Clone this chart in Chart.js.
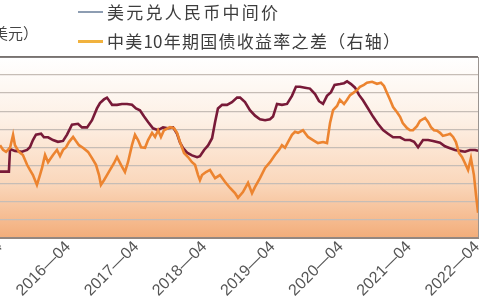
<!DOCTYPE html>
<html><head><meta charset="utf-8">
<script src="https://cdn.jsdelivr.net/npm/chart.js@4"></script>
<style>
html,body{margin:0;padding:0;width:480px;height:300px;overflow:hidden;background:#fff;}
#wrap{position:relative;width:480px;height:300px;overflow:hidden;}
canvas{position:absolute;left:0;top:0;}
.leg{position:absolute;font-family:"Noto Sans CJK SC";font-size:17px;line-height:17px;color:#3d3d3d;white-space:nowrap;text-align:justify;text-align-last:justify;text-justify:inter-character;}
.unit{position:absolute;font-family:"Noto Sans CJK SC";font-size:15px;line-height:15px;color:#444;white-space:nowrap;}
.sw{position:absolute;}
</style></head>
<body><div id="wrap">
<canvas id="c" width="480" height="300"></canvas>
<div class="sw" style="left:78px;top:11px;width:25px;height:2px;background:#8d9db2"></div>
<div class="leg" id="leg1" style="left:107px;top:3px;width:171px"></div>
<div class="sw" style="left:78px;top:40px;width:25px;height:3px;background:#f1b23e"></div>
<div class="leg" id="leg2" style="left:107px;top:32px;width:293px"></div>
<div class="unit" id="unit" style="right:442px;top:25px"></div>
</div>
<script>
const seriesNames = ['美元兑人民币中间价', '中美10年期国债收益率之差（右轴）'];
const leftUnit = '（元/美元）';
const tickDates = ['2015-04','2016-04','2017-04','2018-04','2019-04','2020-04','2021-04','2022-04'];

const fxDates = ['2015-04-01','2015-05-18','2015-05-24','2015-06-20','2015-07-27','2015-08-24','2015-09-09','2015-09-25','2015-10-11','2015-11-08','2015-11-23','2015-12-15','2016-01-11','2016-02-07','2016-03-04','2016-03-25','2016-04-21','2016-05-23','2016-06-14','2016-07-11','2016-08-07','2016-09-03','2016-09-19','2016-10-10','2016-10-26','2016-11-23','2016-12-19','2017-01-15','2017-02-12','2017-03-08','2017-03-29','2017-04-20','2017-05-12','2017-06-03','2017-06-29','2017-07-26','2017-08-22','2017-09-18','2017-10-15','2017-11-06','2017-11-22','2017-12-08','2017-12-29','2018-01-25','2018-02-22','2018-03-07','2018-03-29','2018-04-20','2018-05-11','2018-05-27','2018-06-12','2018-07-04','2018-07-30','2018-08-26','2018-09-23','2018-10-09','2018-11-05','2018-12-01','2018-12-28','2019-01-24','2019-02-21','2019-03-17','2019-04-03','2019-04-24','2019-05-20','2019-06-17','2019-07-13','2019-08-04','2019-08-25','2019-09-22','2019-10-18','2019-11-15','2019-12-06','2019-12-27','2020-01-18','2020-02-09','2020-02-28','2020-03-27','2020-04-18','2020-05-04','2020-05-25','2020-06-16','2020-07-07','2020-07-28','2020-08-25','2020-09-21','2020-10-17','2020-11-14','2020-12-10','2021-01-07','2021-02-14','2021-03-10','2021-04-07','2021-04-28','2021-05-19','2021-06-15','2021-07-12','2021-08-08','2021-09-15','2021-10-11','2021-11-08','2021-12-04','2021-12-30','2022-01-27','2022-02-23','2022-03-20','2022-04-06'];
const fxValues = [6.13,6.13,6.38,6.36,6.35,6.37,6.40,6.48,6.54,6.55,6.51,6.51,6.48,6.46,6.47,6.54,6.65,6.66,6.62,6.62,6.70,6.83,6.89,6.93,6.95,6.87,6.87,6.88,6.88,6.87,6.83,6.81,6.74,6.68,6.61,6.59,6.62,6.61,6.62,6.55,6.45,6.39,6.34,6.31,6.29,6.30,6.37,6.42,6.50,6.68,6.83,6.87,6.87,6.90,6.95,6.95,6.90,6.81,6.75,6.71,6.70,6.71,6.74,6.88,6.87,6.88,6.97,7.07,7.07,7.06,7.05,6.99,6.91,6.88,6.97,7.01,7.09,7.10,7.11,7.13,7.10,7.06,6.98,6.92,6.83,6.74,6.66,6.59,6.55,6.51,6.51,6.48,6.48,6.46,6.40,6.48,6.48,6.47,6.45,6.41,6.39,6.37,6.36,6.35,6.37,6.37,6.36];

const spreadDates = ['2015-04-01','2015-04-17','2015-05-03','2015-05-24','2015-06-10','2015-06-20','2015-07-11','2015-08-02','2015-08-24','2015-09-09','2015-09-25','2015-10-16','2015-11-02','2015-11-13','2015-11-29','2015-12-15','2015-12-30','2016-01-11','2016-02-02','2016-02-18','2016-03-04','2016-03-20','2016-04-05','2016-04-27','2016-05-12','2016-05-28','2016-06-19','2016-07-16','2016-08-07','2016-08-28','2016-09-14','2016-09-24','2016-10-10','2016-10-26','2016-11-12','2016-12-03','2016-12-19','2017-01-10','2017-02-01','2017-02-17','2017-03-08','2017-03-24','2017-04-10','2017-04-26','2017-05-17','2017-06-03','2017-06-24','2017-07-10','2017-07-26','2017-08-11','2017-08-27','2017-09-29','2017-10-20','2017-11-06','2017-11-22','2017-12-13','2018-01-04','2018-01-25','2018-02-11','2018-02-27','2018-03-07','2018-03-18','2018-04-09','2018-04-30','2018-05-27','2018-06-23','2018-07-19','2018-08-16','2018-09-12','2018-09-28','2018-10-24','2018-11-21','2018-12-12','2018-12-28','2019-01-24','2019-02-21','2019-03-17','2019-04-13','2019-05-05','2019-05-20','2019-06-06','2019-06-22','2019-07-13','2019-07-29','2019-08-15','2019-09-11','2019-10-08','2019-11-04','2019-11-30','2019-12-27','2020-01-18','2020-02-04','2020-02-20','2020-03-11','2020-03-26','2020-04-18','2020-05-04','2020-05-20','2020-06-05','2020-06-27','2020-07-12','2020-08-03','2020-08-19','2020-09-16','2020-10-12','2020-11-03','2020-11-19','2020-12-05','2020-12-21','2021-01-07','2021-01-28','2021-02-14','2021-02-28','2021-03-21','2021-04-07','2021-04-22','2021-05-13','2021-05-29','2021-06-26','2021-07-12','2021-07-27','2021-08-13','2021-08-29','2021-09-15','2021-09-30','2021-10-22','2021-11-08','2021-11-24','2021-12-09','2021-12-25','2022-01-11','2022-01-27','2022-02-13','2022-02-28','2022-03-14','2022-03-25','2022-04-06'];
const spreadValues = [1.29,1.20,1.16,1.24,1.49,1.29,1.16,1.10,0.91,0.81,0.71,0.52,0.71,0.85,1.10,0.96,1.04,1.10,1.20,1.08,1.20,1.25,1.35,1.45,1.37,1.29,1.24,1.16,1.04,0.91,0.71,0.52,0.61,0.71,0.81,0.94,1.06,0.91,0.77,0.96,1.29,1.49,1.39,1.25,1.24,1.39,1.53,1.45,1.58,1.45,1.58,1.64,1.62,1.53,1.35,1.14,1.06,0.96,0.91,0.71,0.61,0.71,0.77,0.81,0.65,0.71,0.58,0.46,0.36,0.27,0.38,0.56,0.36,0.48,0.65,0.85,0.96,1.10,1.20,1.29,1.24,1.35,1.49,1.55,1.53,1.58,1.45,1.39,1.33,1.35,1.33,1.72,1.97,2.05,2.17,2.09,2.17,2.26,2.30,2.36,2.42,2.46,2.50,2.52,2.48,2.50,2.44,2.30,2.17,2.03,1.93,1.84,1.72,1.62,1.58,1.58,1.66,1.76,1.82,1.74,1.64,1.58,1.57,1.53,1.47,1.49,1.51,1.45,1.35,1.14,1.06,0.94,0.81,1.04,0.71,0.32,-0.02];

// months since 2015-01
function toMonth(s){ const p = s.split('-').map(Number); return (p[0]-2015)*12 + (p[1]-1) + ((p[2]||1)-1)/30; }
const pts = (d, v) => d.map((s, i) => ({x: toMonth(s), y: v[i]}));

document.getElementById('leg1').textContent = seriesNames[0];
document.getElementById('leg2').textContent = seriesNames[1];
document.getElementById('unit').textContent = leftUnit;

const bgPlugin = {
  id: 'bg',
  beforeDraw(chart){
    const {ctx, chartArea:a} = chart;
    const g = ctx.createLinearGradient(0, a.top, 0, a.bottom);
    g.addColorStop(0, '#ffffff');
    g.addColorStop(0.35, '#fdf0e5');
    g.addColorStop(0.7, '#fad7bb');
    g.addColorStop(1, '#f3ad7a');
    ctx.save(); ctx.fillStyle = g; ctx.fillRect(a.left, a.top, a.right - a.left, a.bottom - a.top); ctx.restore();
  },
  afterDraw(chart){
    const {ctx, chartArea:a} = chart;
    ctx.save();
    ctx.strokeStyle = '#5e5a58'; ctx.lineWidth = 1.5;
    ctx.beginPath(); ctx.moveTo(a.left, a.top); ctx.lineTo(a.right, a.top); ctx.stroke();
    ctx.strokeStyle = '#9a9490'; ctx.lineWidth = 1;
    ctx.beginPath(); ctx.moveTo(a.right + 0.5, a.top); ctx.lineTo(a.right + 0.5, a.bottom); ctx.stroke();
    ctx.restore();
  }
};

new Chart(document.getElementById('c'), {
  type: 'line',
  data: {
    datasets: [
      { label: seriesNames[1], data: pts(spreadDates, spreadValues), yAxisID: 'y2', borderColor: '#ec8430', borderWidth: 2.6, pointRadius: 0, tension: 0, order: 0 },
      { label: seriesNames[0], data: pts(fxDates, fxValues), yAxisID: 'y', borderColor: '#781a38', borderWidth: 2.6, pointRadius: 0, tension: 0, order: 1 }
    ]
  },
  options: {
    responsive: false, animation: false, devicePixelRatio: 1,
    layout: { padding: { left: 0, right: 2, top: 57, bottom: 0 } },
    plugins: { legend: { display: false }, tooltip: { enabled: false } },
    scales: {
      x: {
        type: 'linear', min: toMonth(tickDates[0]), max: 87.15,
        grid: { display: false, drawTicks: false },
        border: { display: true, color: '#948780', width: 2 },
        afterBuildTicks: s => { s.ticks = tickDates.map(t => ({ value: toMonth(t) })); },
        afterFit: s => { s.height = 62.5; s.paddingLeft = 0; s.paddingRight = 0; },
        ticks: {
          autoSkip: false, maxRotation: 45, minRotation: 45, padding: 0,
          color: '#555', font: { family: 'Liberation Sans', size: 16 },
          callback: v => { const t = tickDates.find(d => Math.abs(toMonth(d) - v) < 0.01); return t ? t.replace('-', '—') : ''; }
        }
      },
      y: {
        position: 'left', min: 5.4, max: 7.4,
        ticks: { display: false, stepSize: 0.2 },
        border: { display: false },
        grid: { color: '#c6bdb6', lineWidth: 1.3, drawTicks: false },
        afterFit: s => { s.width = 0; s.paddingTop = 0; s.paddingBottom = 0; }
      },
      y2: {
        position: 'right', min: -0.5, max: 3.0, display: false
      }
    }
  },
  plugins: [bgPlugin]
});
</script>
</body></html>
